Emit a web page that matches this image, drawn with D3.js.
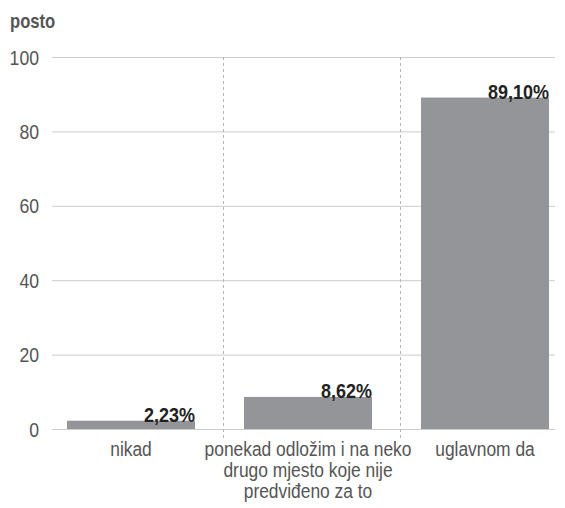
<!DOCTYPE html>
<html>
<head>
<meta charset="utf-8">
<script src="https://cdn.jsdelivr.net/npm/d3@7"></script>
<style>
  body { margin: 0; background: #fff; }
  svg { display: block; }
  text { font-family: "Liberation Sans", Arial, sans-serif; }
</style>
</head>
<body>
<svg id="chart" width="565" height="508"></svg>
<script>
const categories = [
  ["nikad"],
  ["ponekad odložim i na neko", "drugo mjesto koje nije", "predviđeno za to"],
  ["uglavnom da"]
];
const values = [2.23, 8.62, 89.10];
const valueLabels = ["2,23%", "8,62%", "89,10%"];
const yTicks = [0, 20, 40, 60, 80, 100];
const yTitle = "posto";

const svg = d3.select("#chart");
const gridLeft = 52, gridRight = 555;
const plotTop = 57, plotBottom = 429;

const x = d3.scaleBand().domain(d3.range(categories.length)).range([46, 577]).paddingInner(0).paddingOuter(0);
const y = d3.scaleLinear().domain([0, 100]).range([plotBottom, plotTop]);
const barOffset = 21, barWidth = 128;
const tr = (px, py, s) => `translate(${px},${py}) scale(${s},1)`;

// gridlines
svg.append("g").selectAll("line").data(yTicks).join("line")
  .attr("x1", gridLeft).attr("x2", gridRight)
  .attr("y1", d => y(d) + 0.5).attr("y2", d => y(d) + 0.5)
  .attr("stroke", "#cccccc").attr("stroke-width", 1);

// y tick labels
svg.append("g").selectAll("text").data(yTicks).join("text")
  .attr("transform", d => tr(39, y(d), 0.84))
  .attr("dy", "0.36em")
  .attr("text-anchor", "end")
  .attr("font-size", 21).attr("fill", "#555")
  .text(d => d);

// y title
svg.append("text").attr("transform", tr(10, 28, 0.83))
  .attr("font-size", 20).attr("font-weight", "bold").attr("fill", "#555")
  .text(yTitle);

// dividers
svg.append("g").selectAll("line").data(d3.range(1, categories.length)).join("line")
  .attr("x1", d => x(d) + 0.5).attr("x2", d => x(d) + 0.5)
  .attr("y1", plotTop).attr("y2", 439)
  .attr("stroke", "#b5b5b5").attr("stroke-width", 1).attr("stroke-dasharray", "3,3");

// bars
svg.append("g").selectAll("rect").data(values).join("rect")
  .attr("x", (d, i) => x(i) + barOffset)
  .attr("width", barWidth)
  .attr("y", d => y(d))
  .attr("height", d => y(0) - y(d))
  .attr("fill", "#939598");

// value labels
svg.append("g").selectAll("text").data(values).join("text")
  .attr("transform", (d, i) => tr(x(i) + barOffset + barWidth, y(d) + 1, 0.9))
  .attr("text-anchor", "end")
  .attr("font-size", 20).attr("font-weight", "bold").attr("fill", "#222")
  .text((d, i) => valueLabels[i]);

// category labels
const cg = svg.append("g");
categories.forEach((lines, i) => {
  const cx = x(i) + barOffset + barWidth / 2;
  const t = cg.append("text")
    .attr("transform", tr(cx, 456, 0.87))
    .attr("text-anchor", "middle")
    .attr("font-size", 20).attr("fill", "#555");
  lines.forEach((ln, j) => {
    t.append("tspan").attr("x", 0).attr("dy", j === 0 ? 0 : 21).text(ln);
  });
});
</script>
</body>
</html>
